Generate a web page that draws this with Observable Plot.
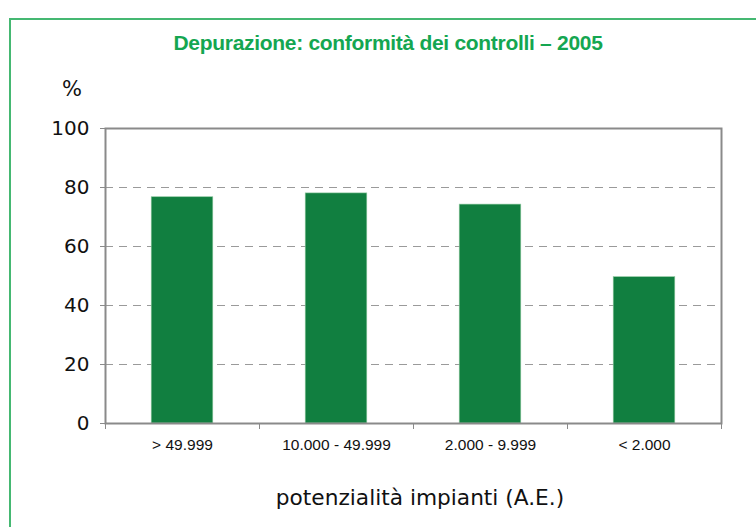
<!DOCTYPE html>
<html>
<head>
<meta charset="utf-8">
<script src="https://cdn.jsdelivr.net/npm/d3@7"></script>
<script src="https://cdn.jsdelivr.net/npm/@observablehq/plot@0.6"></script>
<style>
  html, body { margin: 0; padding: 0; background: #fff; }
  #wrap { position: relative; width: 756px; height: 527px; overflow: hidden; background: #fff; }
  #border { position: absolute; left: 9px; top: 18px; width: 800px; height: 600px; border: 2px solid #45b872; box-sizing: border-box; pointer-events: none; z-index: 5; }
  #title { position: absolute; left: 0; width: 776px; top: 31px; text-align: center; font-family: "Liberation Sans", Arial, sans-serif; font-weight: bold; font-size: 21px; color: #14a651; letter-spacing: -0.3px; }
  #unit { position: absolute; left: 62px; top: 77px; font-family: "DejaVu Sans", sans-serif; font-size: 21px; color: #111; }
  #xtitle { position: absolute; left: 0; width: 840px; top: 485px; text-align: center; font-family: "DejaVu Sans", sans-serif; font-size: 21.7px; color: #111; }
  #chart { position: absolute; left: 0; top: 0; }
</style>
</head>
<body>
<div id="wrap">
  <div id="chart"></div>
  <div id="border"></div>
  <div id="title">Depurazione: conformità dei controlli – 2005</div>
  <div id="unit">%</div>
  <div id="xtitle">potenzialità impianti (A.E.)</div>
</div>
<script>
const categories = ["> 49.999", "10.000 - 49.999", "2.000 - 9.999", "< 2.000"];
const values = [76.7, 78.0, 74.2, 49.6];
const yTicks = [0, 20, 40, 60, 80, 100];
const gridValues = [20, 40, 60, 80];

const data = categories.map((c, i) => ({ cat: c, i, value: values[i] }));
const boundaries = d3.range(categories.length + 1);
const centers = categories.map((c, i) => ({ pos: i + 0.5, label: c }));

const chart = Plot.plot({
  width: 756,
  height: 527,
  marginLeft: 105,
  marginRight: 35,
  marginTop: 128,
  marginBottom: 104,
  style: { fontFamily: "DejaVu Sans, sans-serif", background: "transparent", overflow: "visible" },
  x: { domain: [0, categories.length], axis: null, label: null },
  y: { domain: [0, 100], axis: null, label: null },
  marks: [
    Plot.ruleY(gridValues, { stroke: "#9a9a9a", strokeWidth: 1, strokeDasharray: "8,6" }),
    Plot.rectY(data, { x1: d => d.i + 0.3, x2: d => d.i + 0.7, y: "value", fill: "#117f40", stroke: "#8fc8a0", strokeWidth: 0.6 }),
    Plot.frame({ stroke: "#8a8a8a", strokeWidth: 2 }),
    Plot.axisY({ ticks: yTicks, label: null, tickSize: 5, tickFormat: () => "", stroke: "#8a8a8a" }),
    Plot.text(yTicks, { y: d => d, frameAnchor: "left", textAnchor: "end", dx: -16, text: d => String(d), fontSize: 20, fill: "#111", fontFamily: "DejaVu Sans, sans-serif" }),
    Plot.axisX({ ticks: boundaries, label: null, tickSize: 6, tickFormat: () => "", stroke: "#8a8a8a" }),
    Plot.text(centers, { x: "pos", frameAnchor: "bottom", dy: 26, text: "label", fontSize: 15.5, fill: "#111", fontFamily: "Liberation Sans, Arial, sans-serif" })
  ]
});
document.getElementById("chart").appendChild(chart);
</script>
</body>
</html>
